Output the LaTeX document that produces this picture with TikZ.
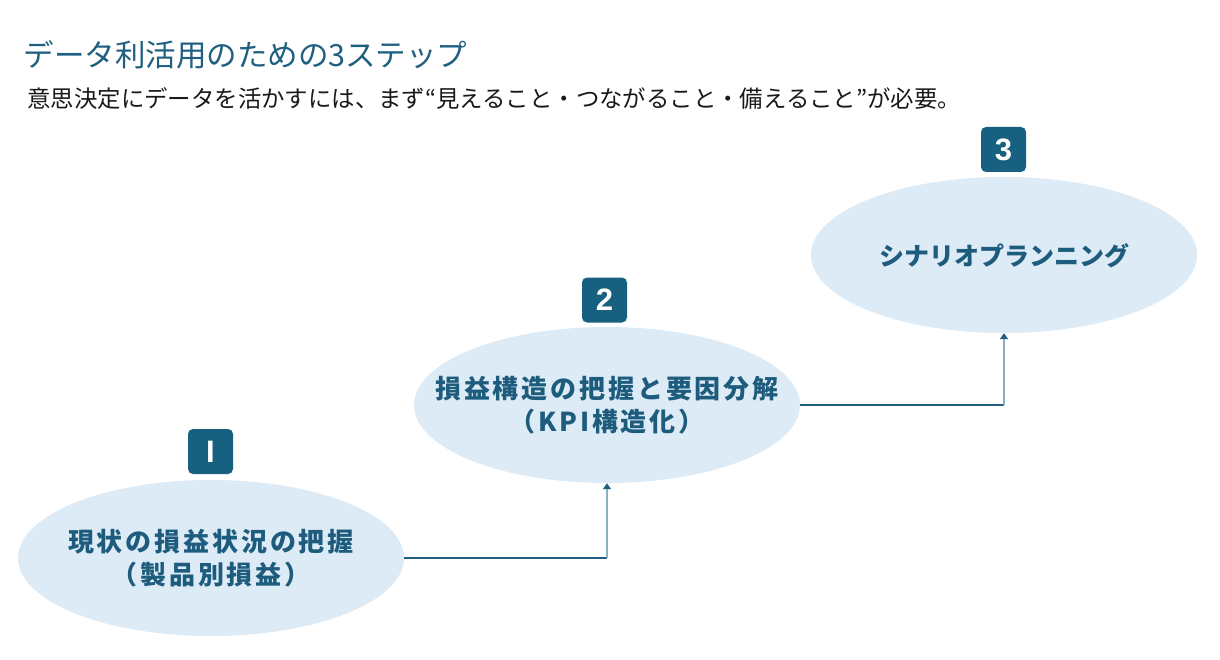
\documentclass[tikz,border=0pt]{standalone}
\usepackage{fontspec}
\setmainfont{Noto Sans CJK JP}
\newfontfamily\jpls[LetterSpace=11]{Noto Sans CJK JP}
\newfontfamily\badgefont{Liberation Sans}
\usetikzlibrary{shapes.geometric,arrows.meta}
\definecolor{titlecol}{HTML}{1F5F7F}
\definecolor{badgecol}{HTML}{17607F}
\definecolor{ellfill}{HTML}{DDEBF7}
\definecolor{textcol}{HTML}{1E5C7D}
\definecolor{linecol}{HTML}{1F5F7F}
\definecolor{vlinecol}{HTML}{8AB0C4}
\begin{document}
\begin{tikzpicture}[x=1pt,y=-1pt,
  ellipsebox/.style={ellipse, fill=ellfill, minimum width=386pt, minimum height=156pt, inner sep=0pt},
  steptext/.style={text=textcol, font=\jpls\bfseries\fontsize{26}{33}\selectfont, align=center, inner sep=0pt},
  badgebox/.style={fill=badgecol, rounded corners=5pt, minimum size=45pt, inner sep=0pt,
    text=white, font=\badgefont\bfseries\fontsize{31}{31}\selectfont},
  hline/.style={draw=linecol, line width=1.2pt},
  vline/.style={draw=vlinecol, line width=1.6pt, -{Triangle[width=8pt,length=6pt,color=linecol]}}
]
\useasboundingbox[fill=white] (0,0) rectangle (1220,660);
\node[anchor=west, text=titlecol, font=\fontsize{30.5}{30.5}\selectfont] (title) at (20,55) {データ利活用のための3ステップ};
\node[anchor=west, text=black!90, font=\fontsize{23.4}{23.4}\selectfont] (sub) at (24,99) {意思決定にデータを活かすには、まず“見えること・つながること・備えること”が必要。};

\node[ellipsebox] (e1) at (211,558) {};
\node[ellipsebox] (e2) at (607,405) {};
\node[ellipsebox] (e3) at (1004,255) {};
\node[steptext] (t1) at (e1.center) {現状の損益状況の把握\\（製品別損益）};
\node[steptext] (t2) at (e2.center) {損益構造の把握と要因分解\\（KPI構造化）};
\node[steptext, font=\bfseries\fontsize{25}{33}\selectfont] (t3) at ([yshift=-1pt]e3.center) {シナリオプランニング};

\node[badgebox] (b1) at (210.5,451.5) {I};
\node[badgebox] (b2) at (604.5,300) {2};
\node[badgebox] (b3) at (1003.5,149.5) {3};

\draw[hline] (e1.east) -- (e1.east -| e2.south) coordinate (c1);
\draw[vline] (c1) -- (e2.south);
\draw[hline] (e2.east) -- (e2.east -| e3.south) coordinate (c2);
\draw[vline] (c2) -- (e3.south);
\end{tikzpicture}
\end{document}
